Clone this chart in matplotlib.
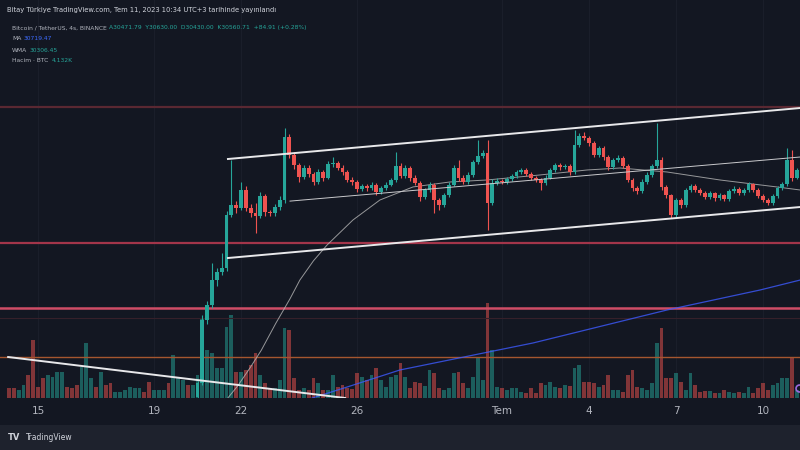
#%%
import numpy as np
import matplotlib.pyplot as plt

# 4s candles from 20 Jun 12:00 (day 5.5), open of each = previous close
first_open = 26800
closes = [27040, 28120, 28370, 28800, 28940, 29010, 29910, 30080, 30030, 30340,
          30030, 29950, 29900, 30240, 29960, 29940, 30050, 30170, 31250, 30940,
          30770, 30560, 30720, 30610, 30480, 30650, 30550, 30790, 30800, 30720,
          30650, 30510, 30480, 30360, 30410, 30370, 30430, 30310, 30370, 30430,
          30510, 30750, 30580, 30720, 30550, 30460, 30220, 30340, 30430, 30170,
          30080, 30250, 30430, 30720, 30550, 30480, 30600, 30820, 30920, 30970,
          30120, 30460, 30490, 30480, 30530, 30580, 30650, 30680, 30610, 30550,
          30510, 30460, 30550, 30680, 30770, 30730, 30750, 30650, 31110, 31260,
          31230, 31140, 30940, 31060, 30900, 30730, 30850, 30890, 30750, 30510,
          30370, 30320, 30480, 30600, 30750, 30850, 30390, 30250, 29910, 30170,
          30080, 30340, 30410, 30340, 30290, 30220, 30290, 30200, 30250, 30190,
          30320, 30360, 30290, 30340, 30440, 30340, 30240, 30170, 30120, 30240,
          30370, 30440, 30850, 30550, 30680]
highs = [27080, 28200, 28450, 29090, 29010, 29260, 29980, 30850, 30150, 30480,
         30400, 30100, 30120, 30300, 30280, 30000, 30100, 30230, 31400, 31290,
         30990, 30800, 30770, 30760, 30650, 30700, 30690, 30830, 30900, 30830,
         30760, 30680, 30560, 30510, 30450, 30440, 30470, 30460, 30400, 30470,
         30550, 30990, 30800, 30760, 30750, 30600, 30490, 30380, 30470, 30460,
         30210, 30290, 30470, 30770, 30850, 30590, 30640, 30860, 31200, 31020,
         31200, 30520, 30540, 30530, 30570, 30620, 30690, 30720, 30710, 30640,
         30580, 30540, 30590, 30720, 30810, 30800, 30790, 30780, 31370, 31320,
         31330, 31270, 31170, 31100, 31090, 30930, 30890, 30930, 30920, 30780,
         30540, 30410, 30520, 30640, 30790, 31490, 30900, 30420, 30280, 30210,
         30200, 30380, 30450, 30440, 30370, 30320, 30320, 30310, 30290, 30280,
         30360, 30400, 30390, 30380, 30480, 30460, 30370, 30270, 30200, 30280,
         30410, 30480, 31060, 31020, 30720]
lows = [26760, 27000, 28050, 28320, 28700, 28880, 28960, 29870, 29950, 29990,
        29980, 29880, 29600, 29860, 29900, 29900, 29900, 30000, 30120, 30880,
        30700, 30480, 30520, 30560, 30420, 30450, 30500, 30520, 30740, 30680,
        30600, 30470, 30430, 30300, 30330, 30330, 30340, 30260, 30280, 30340,
        30400, 30480, 30540, 30550, 30500, 30420, 30160, 30180, 30300, 29950,
        30000, 30050, 30220, 30400, 30500, 30440, 30450, 30570, 30780, 30880,
        29660, 30080, 30420, 30440, 30450, 30500, 30550, 30620, 30580, 30510,
        30470, 30340, 30430, 30520, 30650, 30690, 30700, 30600, 30620, 31080,
        31190, 31100, 30900, 30900, 30860, 30690, 30700, 30820, 30710, 30470,
        30330, 30270, 30290, 30450, 30570, 30720, 30340, 30200, 29860, 29860,
        30030, 30050, 30300, 30300, 30250, 30180, 30190, 30160, 30170, 30150,
        30160, 30290, 30250, 30260, 30310, 30300, 30200, 30130, 30080, 30090,
        30210, 30340, 30410, 30500, 30520]

# volume from 14 Jun 00:00 (day -1), 4s bars
volumes = [10, 10, 8, 13, 23, 58, 11, 20, 23, 21, 26, 26, 11, 10, 13, 31, 55, 20, 11, 26,
           13, 15, 6, 6, 8, 11, 10, 10, 6, 16, 8, 8, 8, 15, 43, 20, 18, 13, 13,
           23, 80, 48, 45, 30, 30, 71, 83, 26, 26, 28, 33, 45, 23, 15, 10, 10, 18, 70, 68,
           20, 8, 10, 8, 20, 15, 8, 8, 23, 11, 13, 10, 9, 25, 21, 18, 23, 30, 18, 11,
           21, 23, 35, 21, 10, 16, 15, 12, 28, 25, 10, 8, 10, 25, 26, 15, 10, 21, 40, 18,
           95, 48, 11, 10, 8, 10, 10, 6, 5, 10, 5, 15, 13, 16, 11, 10, 13, 12, 30, 33,
           16, 16, 15, 11, 13, 23, 8, 8, 6, 23, 28, 11, 10, 8, 15, 55, 70, 20, 20, 25,
           16, 8, 25, 13, 6, 7, 7, 5, 5, 8, 6, 5, 6, 5, 11, 5, 10, 15, 8, 13,
           15, 20, 20, 40, 8]
# up/down of the volume bars before the first visible candle
early_up = [0, 0, 1, 1, 0, 0, 0, 0, 1, 1, 1, 1, 0, 0, 0, 1, 1, 1, 0, 1,
            0, 0, 1, 1, 1, 1, 1, 1, 0, 0, 1, 1, 1, 0, 1, 1, 1, 0, 1]

# moving averages (day, price)
ma_days = [6.55, 6.9, 7.3, 7.7, 8.2, 8.69, 9.03, 9.5, 9.97, 10.86, 11.79, 12.93, 14.2,
           15.48, 17.31, 18.93, 20.07, 21.69, 23.52, 25.48, 26.28]
ma_vals = [26785, 27000, 27290, 27600, 28060, 28480, 28800, 29130, 29400, 29827, 30169,
           30392, 30477, 30511, 30597, 30682, 30716, 30648, 30511, 30392, 30340]
blue_days = [9.03, 10.66, 12.48, 17.07, 21.69, 24.9, 26.28]
blue_vals = [26715, 26971, 27262, 27724, 28288, 28630, 28800]

# drawn lines: channel + trend
upper_ch = ([6.55, 26.28], [30870, 31742])
lower_ch = ([6.55, 26.28], [29177, 30049])
mid_ch = ([8.69, 26.28], [30150, 30904])
down_trend = ([-1.03, 10.59], [27484, 26783])
levels = [31760, 29430, 28320, 27480, 28150]
level_colors = ['#5a2832', '#a3354a', '#cf4d66', '#a5562f', '#35202a']
level_widths = [1.6, 1.6, 1.8, 1.0, 0.8]

tick_days = [0, 4, 7, 11, 16, 19, 22, 25]
tick_labels = ['15', '19', '22', '26', 'Tem', '4', '7', '10']

#%%
BG = '#131722'
UP, DOWN = '#26a69a', '#ef5350'

fig = plt.figure(figsize=(8, 4.5), dpi=100, facecolor='#1e222d')
# dark strip behind the time axis labels
strip = fig.add_axes([0, 25 / 450, 1, 27 / 450], facecolor=BG)
strip.axis('off')
strip.add_patch(plt.Rectangle((0, 0), 1, 1, color=BG, transform=strip.transAxes))

rect = [0, 52 / 450, 1, 398 / 450]
axv = fig.add_axes(rect, facecolor=BG)
ax = fig.add_axes(rect, facecolor='none')
xlim = (-38 / 29, 762 / 29)

opens = [first_open] + closes[:-1]
cd = 5.5 + np.arange(len(closes)) / 6
up = np.array(closes) >= np.array(opens)

vd = -1 + np.arange(len(volumes)) / 6
vol_up = list(early_up) + list(up)
vcol = [(0.15, 0.65, 0.60, 0.5) if u else (0.94, 0.33, 0.31, 0.5) for u in vol_up]
axv.bar(vd, volumes, width=0.135, color=vcol, linewidth=0)
axv.set_xlim(xlim)
axv.set_ylim(0, 398)
axv.set_xticks([])
axv.set_yticks([])
for s in axv.spines.values():
    s.set_visible(False)
for d in tick_days:
    axv.axvline(d, color='#1b1f2b', lw=0.7, zorder=0)

# horizontal levels
for p, c, w in zip(levels, level_colors, level_widths):
    ax.axhline(p, color=c, lw=w, zorder=1)

ax.plot(ma_days, ma_vals, color='#b8b8b8', lw=0.7, alpha=0.8, zorder=2)
ax.plot(blue_days, blue_vals, color='#3d5afe', lw=0.9, alpha=0.8, zorder=2)

# candles
colors = [UP if u else DOWN for u in up]
ax.vlines(cd, lows, highs, color=colors, lw=0.8, zorder=3)
bottoms = np.minimum(opens, closes)
heights = np.maximum(np.abs(np.array(closes) - np.array(opens)), 12)
ax.bar(cd, heights, bottom=bottoms, width=0.13, color=colors, linewidth=0, zorder=4)

for xs, ys in [upper_ch, lower_ch, down_trend]:
    ax.plot(xs, ys, color='#e8e8ea', lw=1.4, zorder=5)
ax.plot(mid_ch[0], mid_ch[1], color='#c9c9cc', lw=0.7, zorder=5)

ax.plot([26.25], [26783 + 10 * 17.1], marker='o', ms=5, mfc='none', mec='#9c6ade',
        mew=1.2, zorder=6, clip_on=False)

ax.set_xlim(xlim)
ax.set_ylim(26783, 33589)
ax.set_xticks(tick_days)
ax.set_xticklabels(tick_labels, color='#b2b5be', fontsize=7.5)
ax.tick_params(axis='x', length=0, pad=6)
ax.set_yticks([])
for s in ax.spines.values():
    s.set_visible(False)

#%%
# legend texts (pixel positions)
def ftext(x, y, s, c='#b2b5be', size=4.3, **kw):
    fig.text(x / 800, 1 - y / 450, s, color=c, fontsize=size, va='center', **kw)

ftext(7, 10, 'Bitay Türkiye TradingView.com, Tem 11, 2023 10:34 UTC+3 tarihinde yayınlandı',
      '#d1d4dc', size=4.9)
ftext(12, 28, 'Bitcoin / TetherUS, 4s, BINANCE')
ftext(109, 28, 'A30471.79  Y30630.00  D30430.00  K30560.71  +84.91 (+0.28%)', '#26a69a')
ftext(12, 39, 'MA')
ftext(24, 39, '30719.47', '#3d6bff')
ftext(12, 50, 'WMA')
ftext(30, 50, '30306.45', '#26a69a')
ftext(12, 61, 'Hacim · BTC')
ftext(52, 61, '4.132K', '#26a69a')

ftext(8, 437, 'TV', '#d1d4dc', size=6, fontweight='bold')
ftext(26, 437, 'TradingView', '#d1d4dc', size=5.5)

plt.savefig('out.png', dpi=100, facecolor=fig.get_facecolor())
plt.close()
